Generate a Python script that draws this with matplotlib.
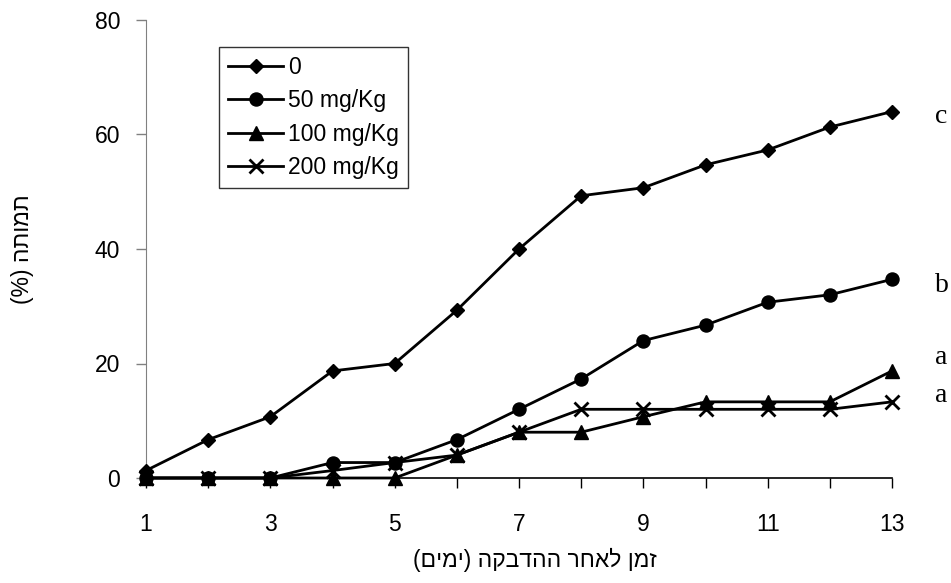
import matplotlib
matplotlib.use("Agg")
import matplotlib.pyplot as plt
from matplotlib.ticker import FixedLocator, MultipleLocator

days = list(range(1, 14))
series_labels = ["0", "50 mg/Kg", "100 mg/Kg", "200 mg/Kg"]
dose_0 = [1.3, 6.7, 10.7, 18.7, 20.0, 29.3, 40.0, 49.3, 50.7, 54.7, 57.3, 61.3, 64.0]
dose_50 = [0, 0, 0, 2.7, 2.7, 6.7, 12.0, 17.3, 24.0, 26.7, 30.7, 32.0, 34.7]
dose_100 = [0, 0, 0, 0, 0, 4.0, 8.0, 8.0, 10.7, 13.3, 13.3, 13.3, 18.7]
dose_200 = [0, 0, 0, 1.3, 2.7, 4.0, 8.0, 12.0, 12.0, 12.0, 12.0, 12.0, 13.3]
group_letters = ["c", "b", "a", "a"]
letter_y = [62.0, 32.5, 20.0, 13.3]
x_ticklabels = [1, 3, 5, 7, 9, 11, 13]
y_ticks = [0, 20, 40, 60, 80]

# Hebrew labels (logical order), converted to visual order for LTR rendering
xlabel_logical = "זמן לאחר ההדבקה (ימים)"
ylabel_logical = "תמותה (%)"


def visual(s):
    mirror = {"(": ")", ")": "("}
    return "".join(mirror.get(c, c) for c in reversed(s))


W, H = 951, 583
PT = 0.72  # points per pixel at 100 dpi
fig = plt.figure(figsize=(W / 100, H / 100), dpi=100)
L, R, T, B = 146, 892, 20, 478
ax = fig.add_axes([L / W, 1 - B / H, (R - L) / W, (B - T) / H])

fs = 16.5
font = "Liberation Sans"
styles = [
    dict(marker="D", ms=7.6),
    dict(marker="o", ms=9.4),
    dict(marker="^", ms=10),
    dict(marker="x", ms=10, mew=2),
]
for vals, lab, st in zip([dose_0, dose_50, dose_100, dose_200], series_labels, styles):
    ax.plot(days, vals, color="black", lw=2, label=lab, mfc="black", mec="black",
            clip_on=False, zorder=3, **st)

ax.set_xlim(1, 13)
ax.set_ylim(0, 80)
ax.xaxis.set_major_locator(FixedLocator(x_ticklabels))
ax.xaxis.set_minor_locator(MultipleLocator(1))
ax.set_yticks(y_ticks)
ax.tick_params(axis="x", which="both", direction="out", length=10 * PT, width=1,
               color="black", pad=25 * PT, labelsize=fs)
ax.tick_params(axis="y", direction="out", length=10 * PT, width=1, color="#808080",
               pad=16 * PT, labelsize=fs)
for lbl in ax.get_xticklabels() + ax.get_yticklabels():
    lbl.set_fontfamily(font)

ax.spines["top"].set_visible(False)
ax.spines["right"].set_visible(False)
ax.spines["left"].set_color("#808080")
ax.spines["bottom"].set_color("black")
ax.spines["bottom"].set_linewidth(1.2)

for letter, yv in zip(group_letters, letter_y):
    ax.text(13.69, yv, letter, family="Liberation Serif", fontsize=20, ha="left",
            va="baseline", clip_on=False)

fig.text(535 / W, 1 - 560 / H, visual(xlabel_logical), family=font, fontsize=fs,
         ha="center", va="center")
fig.text(23 / W, 1 - 249 / H, visual(ylabel_logical), family=font, fontsize=fs,
         ha="center", va="center", rotation=90)

leg = ax.legend(loc="upper left", bbox_to_anchor=((219 - L) / (R - L), (B - 47) / (B - T)),
                prop={"family": font, "size": fs}, frameon=True, fancybox=False,
                edgecolor="black", handlelength=2.4, handletextpad=0.2,
                labelspacing=0.45, borderpad=0.4, borderaxespad=0)
leg.get_frame().set_linewidth(1)

fig.savefig("out.png", dpi=100)
